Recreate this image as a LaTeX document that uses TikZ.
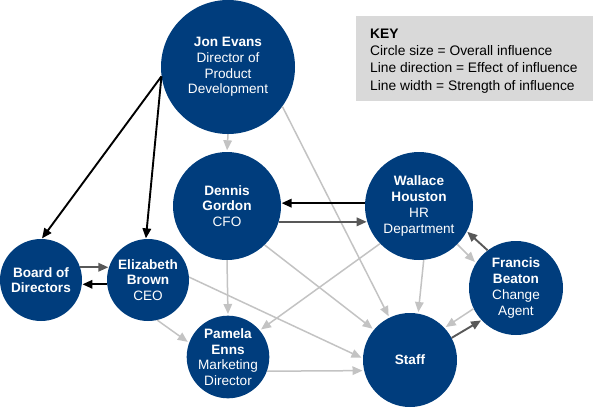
\documentclass[tikz,border=0pt]{standalone}
\usepackage{fontspec}
\setmainfont{Liberation Sans}
\usetikzlibrary{arrows.meta}
\definecolor{navy}{RGB}{0,61,125}
\definecolor{keygray}{RGB}{217,217,217}
\definecolor{lightline}{RGB}{195,195,195}
\definecolor{darkline}{RGB}{88,88,88}
\begin{document}
\begin{tikzpicture}[x=1pt,y=-1pt,
  person/.style={circle, fill=navy, text=white, align=center, inner sep=0pt,
    font=\fontsize{13.6}{15.7}\selectfont},
  keytext/.style={anchor=base west, inner sep=0pt, font=\fontsize{13.8}{16}\selectfont},
  strong/.style={draw=black, line width=1.9pt, -{Triangle[length=10pt,width=8.5pt]}, shorten >=0.5pt},
  medium/.style={draw=darkline, line width=1.9pt, -{Triangle[length=10pt,width=8.5pt]}, shorten >=0.5pt},
  weak/.style={draw=lightline, line width=1.5pt, -{Triangle[length=10pt,width=8.5pt]}, shorten >=1.5pt},
]
\useasboundingbox (0,0) rectangle (599,407);

% key
\node[fill=keygray, anchor=north west, minimum width=237pt, minimum height=85pt, inner sep=0pt] (key) at (356,16) {};
\node[keytext] (k1) at (370,38.3) {\textbf{KEY}};
\node[keytext] (k2) at (370,55.6) {Circle size = Overall influence};
\node[keytext] (k3) at (370,72.9) {Line direction = Effect of influence};
\node[keytext] (k4) at (370,90.2) {Line width = Strength of influence};

% people
\node[person, minimum size=134pt] (jon) at (228,67) {\textbf{Jon Evans}\\Director of\\Product\\Development};
\node[person, minimum size=108pt] (dennis) at (227,206) {\textbf{Dennis}\\\textbf{Gordon}\\CFO};
\node[person, minimum size=108pt] (wallace) at (419,206) {\textbf{Wallace}\\\textbf{Houston}\\HR\\Department};
\node[person, minimum size=94pt] (francis) at (516,288) {\textbf{Francis}\\\textbf{Beaton}\\Change\\Agent};
\node[person, minimum size=94pt] (staff) at (410,360) {\textbf{Staff}};
\node[person, minimum size=82pt] (pamela) at (228,357) {\textbf{Pamela}\\\textbf{Enns}\\Marketing\\Director};
\node[person, minimum size=82pt] (board) at (41,280) {\textbf{Board of}\\\textbf{Directors}};
\node[person, minimum size=82pt] (eliz) at (148,280) {\textbf{Elizabeth}\\\textbf{Brown}\\CEO};

% connectors
\draw[strong] (jon.188) -- (board.89);
\draw[strong] (jon.188) -- (eliz.93);
\draw[weak] (jon.-90) -- (dennis.90);
\draw[weak] (jon.-36) -- (staff.116);
\draw[strong] (wallace.177) -- (dennis.3);
\draw[medium] (dennis.-17) -- (wallace.197);
\draw[medium] (board.18) -- (eliz.162);
\draw[strong] (eliz.186) -- (board.-6);
\draw[weak] (dennis.-90) -- (pamela.90);
\draw[weak] (dennis.-46) -- (staff.140);
\draw[weak] (wallace.224) -- (pamela.40);
\draw[weak] (wallace.-85) -- (staff.80);
\draw[weak] (wallace.-45) -- (francis.148);
\draw[medium] (francis.127) -- (wallace.-28);
\draw[weak] (francis.206) -- (staff.43);
\draw[medium] (staff.28) -- (francis.223);
\draw[weak] (eliz.-77) -- (pamela.160);
\draw[weak] (eliz.4) -- (staff.178);
\draw[weak] (pamela.-20) -- (staff.193);
\end{tikzpicture}
\end{document}
